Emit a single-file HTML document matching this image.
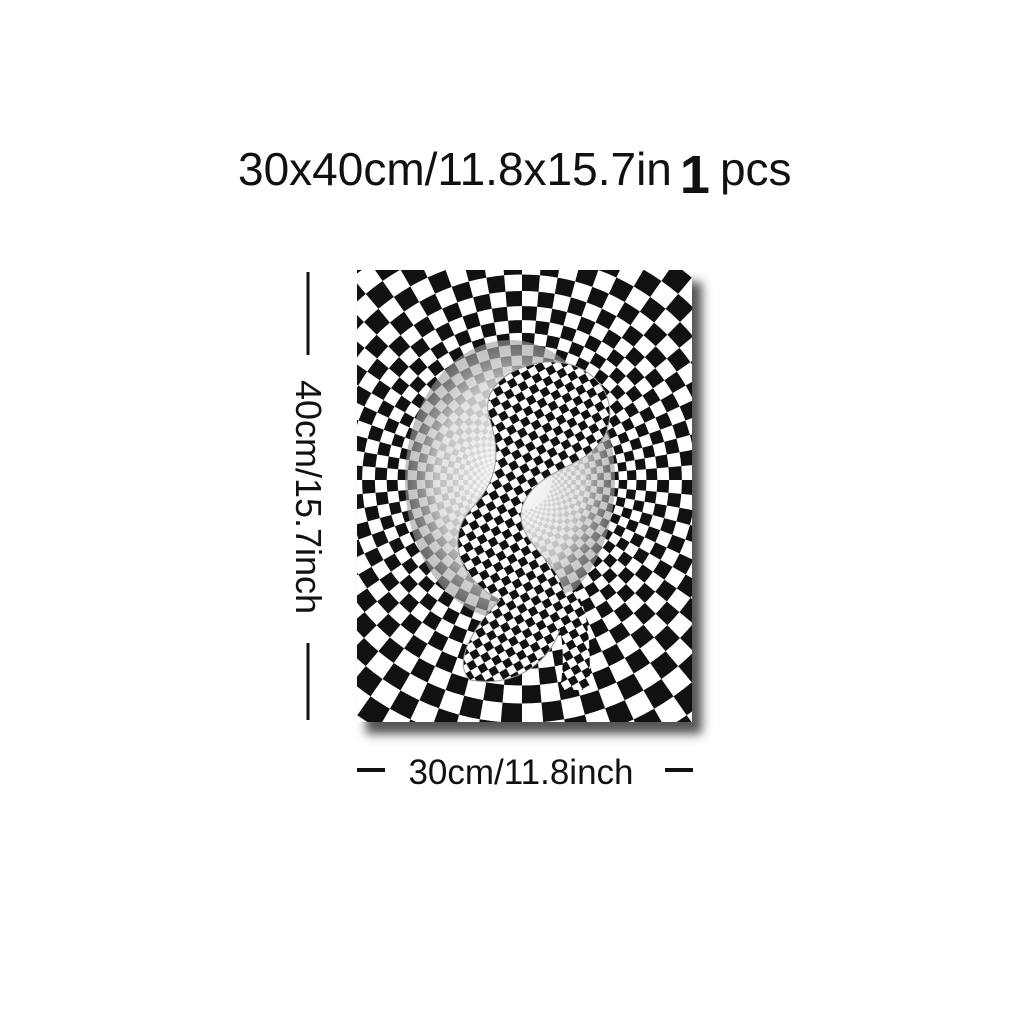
<!DOCTYPE html>
<html><head><meta charset="utf-8"><style>
html,body{margin:0;padding:0;background:#fff;width:1024px;height:1024px;overflow:hidden}
.t{position:absolute;font-family:"Liberation Sans",sans-serif;color:#111}
</style></head><body>
<div class="t" style="left:238px;top:136px;font-size:46px;white-space:nowrap">30x40cm/11.8x15.7in<span style="font-size:54px;font-weight:bold;position:relative;top:8px;margin:0 10px 0 8px">1</span>pcs</div>
<svg width="1024" height="1024" style="position:absolute;left:0;top:0">
<defs>
<filter id="sh" x="-10%" y="-10%" width="130%" height="130%"><feGaussianBlur stdDeviation="5"/></filter>
<clipPath id="cp"><rect x="357" y="270" width="335" height="452"/></clipPath>
<radialGradient id="hole" cx="50%" cy="50%" r="50%"><stop offset="0" stop-color="#fff" stop-opacity="0.95"/><stop offset="0.7" stop-color="#ddd" stop-opacity="0.85"/><stop offset="1" stop-color="#999" stop-opacity="0.6"/></radialGradient>
<pattern id="small" width="16" height="16" patternUnits="userSpaceOnUse" patternTransform="rotate(-30)"><rect width="16" height="16" fill="#fff"/><rect width="8" height="8" fill="#111"/><rect x="8" y="8" width="8" height="8" fill="#111"/></pattern>
</defs>
<rect x="366" y="282" width="336" height="452" fill="#555" filter="url(#sh)"/>
<rect x="357" y="270" width="335" height="452" fill="#fff"/>
<g id="checker" clip-path="url(#cp)"></g>
<g clip-path="url(#cp)">
<ellipse cx="510" cy="480" rx="105" ry="140" fill="url(#hole)"/>
<path d="M530 365 C580 350 625 390 605 435 C585 470 545 465 525 500 C505 540 565 560 565 600 C565 650 525 690 470 680 C450 660 480 620 500 600 C460 580 445 540 470 510 C500 480 500 450 490 420 C480 390 505 372 530 365 Z" fill="url(#small)" stroke="#999" stroke-width="1"/>
<path d="M545 600 C565 620 565 660 560 690 L590 690 C590 650 590 610 575 590 Z" fill="url(#small)"/>
</g>
<g stroke="#111" stroke-width="3">
<line x1="308" y1="272" x2="308" y2="355"/><line x1="308" y1="643" x2="308" y2="720"/>
</g>
<text x="0" y="0" transform="translate(296,497) rotate(90)" text-anchor="middle" font-family="Liberation Sans, sans-serif" font-size="36" fill="#111">40cm/15.7inch</text>
<g stroke="#111" stroke-width="4">
<line x1="357" y1="770" x2="385" y2="770"/><line x1="665" y1="770" x2="693" y2="770"/>
</g>
<text x="521" y="784" text-anchor="middle" font-family="Liberation Sans, sans-serif" font-size="35" fill="#111">30cm/11.8inch</text>
</svg>
<script>
const g=document.getElementById('checker');
const cx=522,cy=480,N=72,q=1+2*Math.PI/N;
let s='';
let r=30,k=0;
while(r<520){
  const r2=r*q;
  for(let i=0;i<N;i++){
    if((i+k)%2) continue;
    const a1=i*2*Math.PI/N,a2=(i+1)*2*Math.PI/N;
    const p=(rr,a)=>(cx+rr*Math.cos(a)).toFixed(1)+' '+(cy+rr*Math.sin(a)).toFixed(1);
    s+='M'+p(r,a1)+'A'+r+' '+r+' 0 0 1 '+p(r,a2)+'L'+p(r2,a2)+'A'+r2+' '+r2+' 0 0 0 '+p(r2,a1)+'Z';
  }
  r=r2;k++;
}
const path=document.createElementNS('http://www.w3.org/2000/svg','path');
path.setAttribute('d',s);path.setAttribute('fill','#111');


g.appendChild(path);
</script>
</body></html>
